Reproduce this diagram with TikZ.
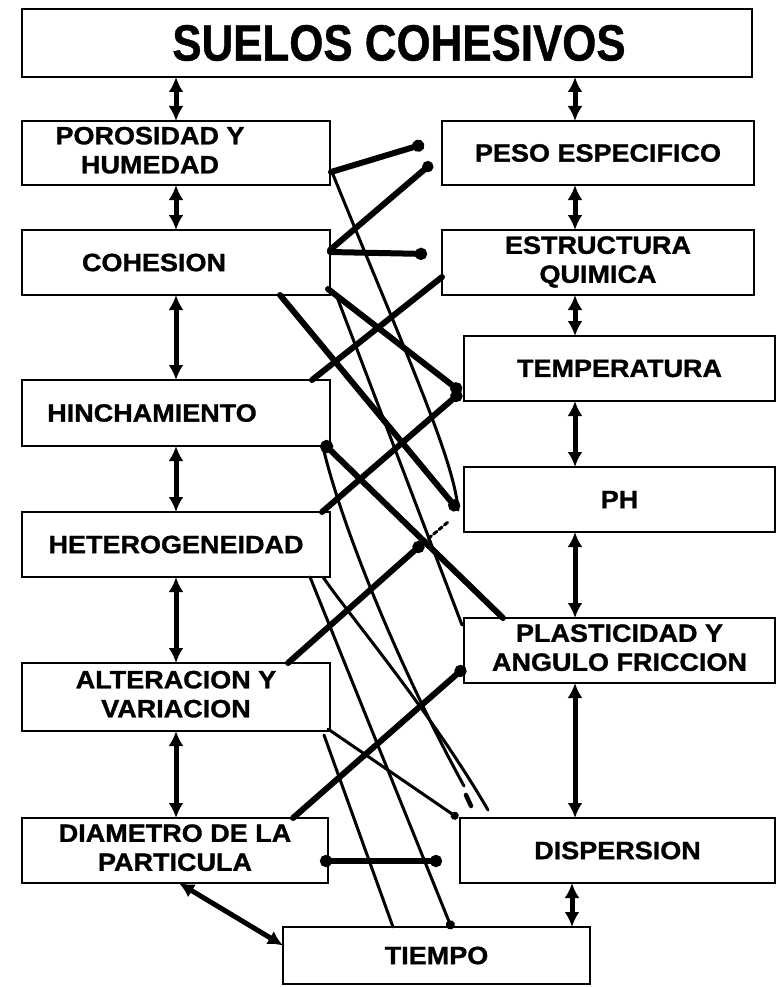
\documentclass[tikz,border=0pt]{standalone}
\usepackage{fontspec}
\newfontfamily\labfont[FakeStretch=1.08,FakeBold=1.2]{Liberation Sans Bold}
\newfontfamily\titfont[FakeStretch=0.86,FakeBold=0.8]{Liberation Sans Bold}
\usetikzlibrary{arrows.meta,calc}
\newcommand\two[2]{\begin{tabular}{@{}c@{}}#1\\#2\end{tabular}}
\begin{document}
\begin{tikzpicture}[x=1pt,y=-1pt,
  box/.style={draw, line width=2.4pt, rectangle, outer sep=0pt, inner sep=0pt,
    font=\labfont\fontsize{25}{29}\selectfont},
  dbl/.style={line width=5pt, {Latex[length=15pt,width=15pt]}-{Latex[length=15pt,width=15pt]}},
  tk/.style={line width=6pt, line cap=round},
  tn/.style={line width=3pt, line cap=round},
  dotend/.style={-{Circle[length=12pt]}}
]
\useasboundingbox (0,0) rectangle (777,987);
% boxes
\node[box, minimum width=730pt, minimum height=68pt, font=\titfont\fontsize{51}{55}\selectfont] (title) at (387,43) {\hspace*{24pt}SUELOS COHESIVOS};
\node[box, minimum width=308pt, minimum height=64pt] (poro) at (176,153) {\two{POROSIDAD Y}{HUMEDAD}\hspace*{52pt}};
\node[box, minimum width=312pt, minimum height=64pt] (peso) at (598,153) {PESO ESPECIFICO};
\node[box, minimum width=308pt, minimum height=65pt] (cohe) at (176,262.5) {COHESION\hspace*{44pt}};
\node[box, minimum width=312pt, minimum height=65pt] (estr) at (598,262.5) {\raisebox{4pt}{\two{ESTRUCTURA}{QUIMICA}}};
\node[box, minimum width=311pt, minimum height=65pt] (temp) at (619.5,368.5) {TEMPERATURA};
\node[box, minimum width=308pt, minimum height=66pt] (hinc) at (176,413) {HINCHAMIENTO\hspace*{48pt}};
\node[box, minimum width=311pt, minimum height=65pt] (ph) at (619.5,499.5) {PH};
\node[box, minimum width=308pt, minimum height=65pt] (hete) at (176,544.5) {HETEROGENEIDAD};
\node[box, minimum width=311pt, minimum height=65pt] (plas) at (619.5,650.5) {\two{PLASTICIDAD Y}{ANGULO FRICCION}};
\node[box, minimum width=308pt, minimum height=68pt] (alte) at (176,697) {\two{ALTERACION Y}{VARIACION}};
\node[box, minimum width=306pt, minimum height=65pt] (diam) at (175,850.5) {\two{DIAMETRO DE LA}{PARTICULA}};
\node[box, minimum width=315pt, minimum height=65pt] (disp) at (617.5,850.5) {DISPERSION};
\node[box, minimum width=307pt, minimum height=57pt] (tiem) at (436.5,955.5) {TIEMPO};
% column guides
\coordinate (rx) at (575,0);
\coordinate (rx2) at (572,0);
% double arrows, left column
\draw[dbl] (title.south -| poro.north) -- (poro.north);
\draw[dbl] (poro.south) -- (cohe.north);
\draw[dbl] (cohe.south) -- (hinc.north);
\draw[dbl] (hinc.south) -- (hete.north);
\draw[dbl] (hete.south) -- (alte.north);
\draw[dbl] (alte.south) -- (alte.south |- diam.north);
% double arrows, right column
\draw[dbl] (title.south -| rx) -- (peso.north -| rx);
\draw[dbl] (peso.south -| rx) -- (estr.north -| rx);
\draw[dbl] (estr.south -| rx) -- (temp.north -| rx);
\draw[dbl] (temp.south -| rx) -- (ph.north -| rx);
\draw[dbl] (ph.south -| rx) -- (plas.north -| rx);
\draw[dbl] (plas.south -| rx) -- (disp.north -| rx);
\draw[dbl] (disp.south -| rx2) -- (tiem.north -| rx2);
\draw[dbl] ($(diam.south)+(4,0)$) -- ($(tiem.west)+(0,-10)$);
% thick connectors
\coordinate (tJ) at ($(temp.south west)+(-3,-9)$);
\coordinate (pJ) at ($(ph.south west)+(-6,-22)$);
\draw[tk,dotend] ($(poro.south east)+(1,-13)$) -- ($(peso.north west)+(-18,23)$);
\draw[tk,-{Circle[length=11pt]}] ($(cohe.north east)+(0,20)$) -- ($(peso.south west)+(-10,-22)$);
\draw[tk,dotend] ($(cohe.north east)+(0,22)$) -- ($(estr.north west)+(-15,24)$);
\draw[tk] ($(estr.south west)+(0,-18)$) -- ($(hinc.north east)+(-18,0)$);
\draw[tk,dotend] ($(cohe.south east)+(-2,-6)$) -- (tJ);
\draw[tk,dotend] ($(hete.north east)+(-8,0)$) -- (tJ);
\draw[tk,dotend] ($(cohe.south east)+(-50,0)$) -- (pJ);
\draw[tk,{Circle[length=13pt]}-] ($(hinc.south east)+(-8,-4)$) -- ($(plas.north west)+(39,0)$);
\draw[tk,dotend] ($(alte.north east)+(-42,0)$) -- ($(ph.south west)+(-41,11)$) coordinate (aP);
\draw[tn,dash pattern=on 4pt off 3pt] (aP) -- ($(ph.south west)+(-16,-10)$);
\draw[tk,dotend] ($(diam.north east)+(-35,0)$) -- ($(plas.south west)+(1,-16)$);
\draw[tk,{Circle[length=12pt]}-{Circle[length=12pt]}] ($(diam.east)+(-8,10.5)$) -- ($(disp.west)+(-18,10.5)$);
% thin connectors
\draw[tn] ($(poro.south east)+(2,-13)$) .. controls (400,340) and (455,460) .. (pJ);
\draw[tn] ($(cohe.south east)+(7,2)$) -- ($(plas.north west)+(-2,7)$);
\draw[tn] ($(hinc.south east)+(-7,1)$) .. controls (340,520) and (395,660) .. ($(disp.north west)+(4,-32)$);
\draw[line width=4.5pt, line cap=round] ($(disp.north west)+(6,-23)$) -- ($(disp.north west)+(11,-12)$);
\draw[tn] ($(hete.south east)+(-7,0)$) .. controls (345,610) and (430,710) .. ($(disp.north west)+(28,-8)$);
\draw[tn,-{Circle[length=9pt]}] ($(hete.south east)+(-20,0)$) -- ($(tiem.north west)+(169,2)$);
\draw[tn,-{Circle[length=8pt]}] ($(alte.south east)+(-2,-2)$) -- ($(disp.north west)+(-2,0)$);
\draw[tn] ($(alte.south east)+(-6,4)$) -- ($(tiem.north west)+(110,0)$);
\end{tikzpicture}
\end{document}
